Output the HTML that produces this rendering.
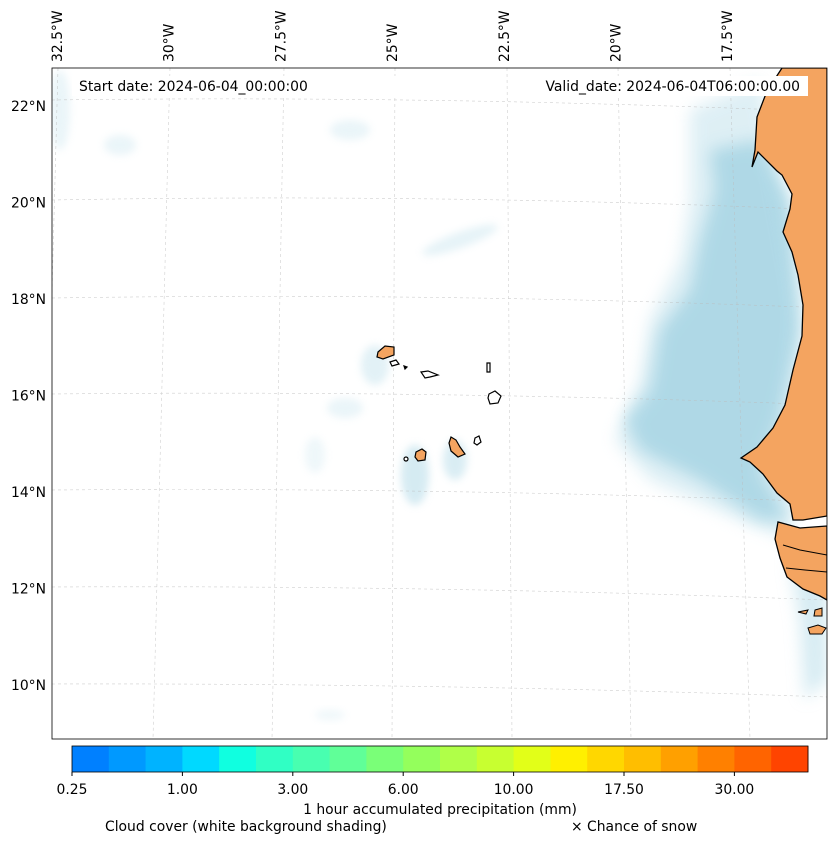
<!DOCTYPE html>
<html><head><meta charset="utf-8">
<style>
body{margin:0;background:#fff;font-family:"Liberation Sans","DejaVu Sans",sans-serif;}
svg text{font-family:"DejaVu Sans","Liberation Sans",sans-serif;}
</style></head>
<body>
<svg id="chart" width="837" height="844" viewBox="0 0 837 844" xmlns="http://www.w3.org/2000/svg">
<defs>
<filter id="blur8" x="-50%" y="-50%" width="200%" height="200%"><feGaussianBlur stdDeviation="8"/></filter>
<filter id="blur4" x="-50%" y="-50%" width="200%" height="200%"><feGaussianBlur stdDeviation="4"/></filter>
<clipPath id="mapclip"><rect x="52" y="68" width="775" height="671"/></clipPath>
</defs>
<rect x="0" y="0" width="837" height="844" fill="#fff"/>
<g clip-path="url(#mapclip)">
  <g fill="#add8e6">
    <path filter="url(#blur8)" opacity="0.95" d="M710 150 L760 140 L790 200 L800 330 L780 420 L760 470 L790 520 L760 520 L700 480 L640 450 L625 420 L650 390 L660 330 L690 290 L700 240 L715 190 Z"/>
    <path filter="url(#blur8)" opacity="0.4" d="M690 110 L760 80 L800 300 L790 540 L740 520 L650 480 L615 440 L640 380 L650 320 L680 260 L690 200 Z"/>
    <path filter="url(#blur8)" opacity="0.5" d="M790 560 L827 540 L827 680 L805 700 L800 620 Z"/>
    <ellipse filter="url(#blur4)" opacity="0.5" cx="415" cy="475" rx="14" ry="30"/>
    <ellipse filter="url(#blur4)" opacity="0.45" cx="455" cy="460" rx="12" ry="20"/>
    <ellipse filter="url(#blur4)" opacity="0.35" cx="375" cy="365" rx="14" ry="20"/>
    <ellipse filter="url(#blur4)" opacity="0.3" cx="460" cy="240" rx="40" ry="8" transform="rotate(-20 460 240)"/>
    <ellipse filter="url(#blur4)" opacity="0.25" cx="345" cy="408" rx="18" ry="10"/>
    <ellipse filter="url(#blur4)" opacity="0.25" cx="120" cy="145" rx="16" ry="10"/>
    <ellipse filter="url(#blur4)" opacity="0.25" cx="350" cy="130" rx="20" ry="10"/>
    <ellipse filter="url(#blur4)" opacity="0.25" cx="60" cy="110" rx="10" ry="40"/>
    <ellipse filter="url(#blur4)" opacity="0.2" cx="315" cy="455" rx="10" ry="18"/>
    <ellipse filter="url(#blur4)" opacity="0.2" cx="330" cy="715" rx="15" ry="5"/>
  </g>
  <g stroke="#bbb" stroke-width="0.6" stroke-dasharray="3,3" fill="none" opacity="0.7">
    <path d="M52 100 Q440 95 827 112"/>
    <path d="M52 200 Q440 193 827 210"/>
    <path d="M52 298 Q440 292 827 308"/>
    <path d="M52 394 Q440 390 827 405"/>
    <path d="M52 490 Q440 487 827 502"/>
    <path d="M52 587 Q440 585 827 600"/>
    <path d="M52 684 Q440 683 827 697"/>
    <path d="M58 68 L40 739"/>
    <path d="M170 68 L153 739"/>
    <path d="M284 68 L272 739"/>
    <path d="M395 68 L392 739"/>
    <path d="M507 68 L512 739"/>
    <path d="M618 68 L631 739"/>
    <path d="M730 68 L750 739"/>
  </g>
  <g>
    <path fill="#f4a460" stroke="#000" stroke-width="1.3" d="M782 68 L767 91 L757 117 L755 150 L752 167 L758 152 L777 171 L782 175 L792 194 L790 209 L783 232 L792 252 L798 275 L803 305 L802 336 L793 370 L785 405 L773 428 L757 447 L741 458 L750 462 L763 474 L777 493 L790 504 L793 520 L803 520 L827 516 L827 68 Z"/>
    <path fill="#f4a460" stroke="#000" stroke-width="1.3" d="M827 526 L800 528 L778 522 L775 539 L780 558 L787 577 L803 589 L820 596 L827 600 Z"/>
    <path fill="none" stroke="#000" stroke-width="1" d="M783 545 L800 550 L827 555 M786 568 L805 570 L827 572"/>
    <path fill="#f4a460" stroke="#000" stroke-width="1" d="M815 610 L822 608 L822 616 L814 616 Z M808 628 L818 625 L826 628 L822 634 L810 634 Z M798 612 L808 610 L806 614 Z"/>
  </g>
  <g stroke="#000" stroke-width="1.2">
    <path fill="#f4a460" d="M378 352 L385 346 L394 347 L394 355 L383 359 L377 357 Z"/>
    <path fill="#fff" d="M390 362 L396 360 L399 364 L392 366 Z"/>
    <path fill="#000" d="M404 366 L407 367 L405 369 Z"/>
    <path fill="#fff" d="M421 372 L428 371 L438 375 L430 377 L425 378 Z"/>
    <path fill="#fff" d="M487 363 L490 363 L490 372 L487 372 Z"/>
    <path fill="#fff" d="M489 394 L495 391 L501 396 L498 403 L490 404 L488 398 Z"/>
    <path fill="#fff" d="M475 438 L479 436 L481 442 L477 445 L474 443 Z"/>
    <path fill="#f4a460" d="M451 437 L456 440 L460 447 L465 454 L458 457 L451 451 L449 443 Z"/>
    <path fill="#f4a460" d="M416 452 L422 449 L426 452 L425 460 L418 461 L415 457 Z"/>
    <circle cx="406" cy="459" r="2" fill="#fff"/>
  </g>
</g>
<rect x="52" y="68" width="775" height="671" fill="none" stroke="#000" stroke-width="0.8"/>
<rect x="72" y="76" width="340" height="20" fill="#fff"/>
<text x="79" y="91" font-size="13.9" fill="#000">Start date: 2024-06-04_00:00:00</text>
<rect x="538" y="76" width="270" height="20" fill="#fff"/>
<text x="800" y="91" font-size="13.9" fill="#000" text-anchor="end">Valid_date: 2024-06-04T06:00:00.00</text>
<g id="latlabels" font-size="13.9" fill="#000" text-anchor="end"></g>
<g id="lonlabels" font-size="13.9" fill="#000"></g>
<g id="colorbar"></g>
<text x="440" y="814" font-size="13.9" text-anchor="middle">1 hour accumulated precipitation (mm)</text>
<text x="105" y="831" font-size="13.9">Cloud cover (white background shading)</text>
<text x="571" y="831" font-size="13.9">× Chance of snow</text>
</svg>
<script>
const latLabels = ["22°N","20°N","18°N","16°N","14°N","12°N","10°N"];
const latPos = [22,20,18,16,14,12,10];
const lonLabels = ["32.5°W","30°W","27.5°W","25°W","22.5°W","20°W","17.5°W"];
const lonPos = [-32.5,-30,-27.5,-25,-22.5,-20,-17.5];
const binColors = ["#0080ff","#0099ff","#00b3ff","#00d9ff","#10ffe0","#30ffc4","#48ffb0","#60ff98","#7aff78","#94ff5c","#b0ff48","#c8ff30","#e2ff18","#fff000","#ffd700","#ffbe00","#ffa000","#ff8000","#ff6400","#ff4400"];
const tickLabels = ["0.25","1.00","3.00","6.00","10.00","17.50","30.00"];
const tickBins = [0,3,6,9,12,15,18];
const NS="http://www.w3.org/2000/svg";
const yLat = v => 106 + (22 - v) * 96.5 / 2;
const xLon = v => 58 + (v + 32.5) * 111.7 / 2.5;
const gl = document.getElementById('latlabels');
latPos.forEach((v,i)=>{
  const t=document.createElementNS(NS,'text');
  t.setAttribute('x',46); t.setAttribute('y',yLat(v)+5); t.textContent=latLabels[i];
  
  
  gl.appendChild(t);
});
const go = document.getElementById('lonlabels');
lonPos.forEach((v,i)=>{
  const x=xLon(v)+4, y=62;
  const t=document.createElementNS(NS,'text');
  t.setAttribute('x',x); t.setAttribute('y',y);
  t.setAttribute('transform','rotate(-90 '+x+' '+y+')');
  t.textContent=lonLabels[i];
  
  
  go.appendChild(t);
});
const cb=document.getElementById('colorbar');
const cbX=72, cbW=736, cbY=746, cbH=26, bw=cbW/binColors.length;
binColors.forEach((c,i)=>{
  const r=document.createElementNS(NS,'rect');
  r.setAttribute('x',cbX+i*bw); r.setAttribute('y',cbY); r.setAttribute('width',bw+0.5); r.setAttribute('height',cbH); r.setAttribute('fill',c);
  
  
  cb.appendChild(r);
});
const fr=document.createElementNS(NS,'rect');
fr.setAttribute('x',cbX); fr.setAttribute('y',cbY); fr.setAttribute('width',cbW); fr.setAttribute('height',cbH); fr.setAttribute('fill','none'); fr.setAttribute('stroke','#000'); fr.setAttribute('stroke-width','0.8');


cb.appendChild(fr);
tickBins.forEach((b,i)=>{
  const x=cbX+b*bw;
  const l=document.createElementNS(NS,'line');
  l.setAttribute('x1',x); l.setAttribute('x2',x); l.setAttribute('y1',cbY+cbH); l.setAttribute('y2',cbY+cbH+4); l.setAttribute('stroke','#000');
  
  
  cb.appendChild(l);
  const t=document.createElementNS(NS,'text');
  t.setAttribute('x',x); t.setAttribute('y',794); t.setAttribute('font-size','13.9'); t.setAttribute('text-anchor','middle');
  t.textContent=tickLabels[i];
  
  
  cb.appendChild(t);
});
</script>
</body></html>
